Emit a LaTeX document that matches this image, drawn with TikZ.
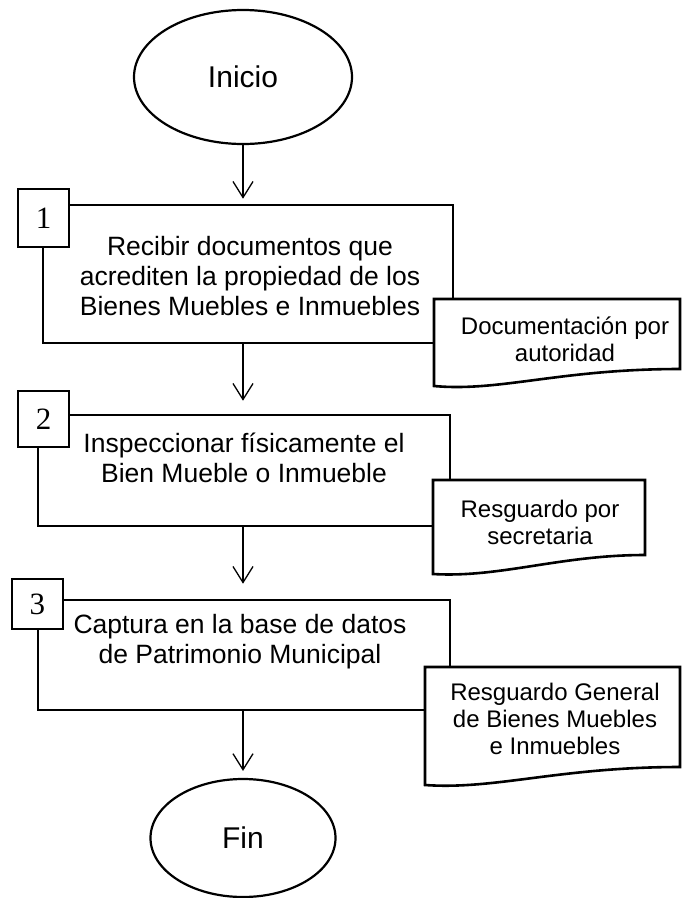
\documentclass[tikz,border=0pt]{standalone}
\usepackage{fontspec}
\setmainfont{Liberation Sans}
\newfontfamily\numfont{Liberation Serif}
\usetikzlibrary{shapes.geometric,arrows.meta}
\begin{document}
\begin{tikzpicture}[x=1pt,y=-1pt,
  term/.style={ellipse,draw,line width=2.2pt,inner sep=0pt,font=\fontsize{30}{34}\selectfont},
  procbox/.style={rectangle,draw,line width=2.6pt,inner sep=0pt},
  numbox/.style={rectangle,draw,fill=white,line width=2pt,inner sep=0pt,font=\numfont\fontsize{31}{34}\selectfont},
  proctext/.style={align=center,inner sep=0pt,font=\fontsize{26.5}{30}\selectfont},
  docshape/.style={draw,fill=white,line width=2.6pt,line join=miter},
  doctext/.style={align=center,inner sep=0pt,font=\fontsize{24}{27}\selectfont},
  arr/.style={line width=1.3pt,-{Straight Barb[length=16pt,width=20pt]}}
]
\useasboundingbox (0,0) rectangle (682,898);
% start / end
\node[term,minimum width=218pt,minimum height=134pt] (ini) at (243,77) {Inicio};
\node[term,minimum width=185pt,minimum height=118pt] (fin) at (243,838) {Fin};
% process boxes
\node[procbox,minimum width=410pt,minimum height=138pt] (b1) at (248,274) {};
\node[procbox,minimum width=412pt,minimum height=111pt] (b2) at (244,470.5) {};
\node[procbox,minimum width=412pt,minimum height=110pt] (b3) at (244,655) {};
\node[proctext] (t1) at (250,276) {Recibir documentos que\\acrediten la propiedad de los\\Bienes Muebles e Inmuebles};
\node[proctext] (t2) at (244,458) {Inspeccionar físicamente el\\Bien Mueble o Inmueble};
\node[proctext] (t3) at (240,642) {Captura en la base de datos\\de Patrimonio Municipal};
% number boxes
\node[numbox,minimum width=51pt,minimum height=58pt] (n1) at (43.5,218) {1};
\node[numbox,minimum width=51pt,minimum height=56pt] (n2) at (43.5,419) {2};
\node[numbox,minimum width=51pt,minimum height=50pt] (n3) at (37.5,604) {3};
% documents
\draw[docshape] (434,299) -- (680,299) -- (680,369) .. controls (560,369) and (500,392) .. (434,386) -- cycle;
\node[doctext] (d1) at (565,339) {Documentación por\\autoridad};
\draw[docshape] (433,480) -- (645,480) -- (645,555) .. controls (560,555) and (500,578) .. (433,574) -- cycle;
\node[doctext] (d2) at (540,522) {Resguardo por\\secretaria};
\draw[docshape] (425,667) -- (680,667) -- (680,767) .. controls (560,767) and (495,790) .. (425,785) -- cycle;
\node[doctext] (d3) at (555,719) {Resguardo General\\de Bienes Muebles\\e Inmuebles};
% arrows
\draw[arr,shorten >=5pt] (ini.south) -- (ini.south |- b1.north);
\draw[arr,shorten >=13pt] (ini.south |- b1.south) -- (ini.south |- b2.north);
\draw[arr,shorten >=15pt] (ini.south |- b2.south) -- (ini.south |- b3.north);
\draw[arr,shorten >=7pt] (ini.south |- b3.south) -- (fin.north);
\end{tikzpicture}
\end{document}
